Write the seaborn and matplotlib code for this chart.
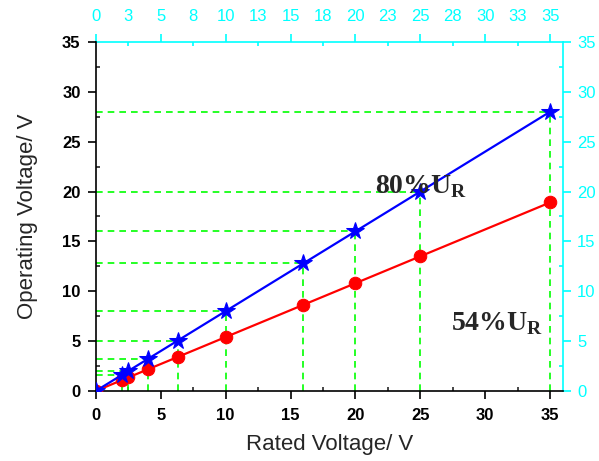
import numpy as np
import pandas as pd
import matplotlib
matplotlib.use('Agg')
import matplotlib.pyplot as plt
import seaborn as sns
from matplotlib.ticker import MultipleLocator, FixedLocator, FuncFormatter

# data
rated = [0, 2, 2.5, 4, 6.3, 10, 16, 20, 25, 35]
op80 = [0, 1.6, 2.0, 3.2, 5.04, 8.0, 12.8, 16.0, 20.0, 28.0]
op54 = [0, 1.08, 1.35, 2.16, 3.4, 5.4, 8.64, 10.8, 13.5, 18.9]

df = pd.DataFrame({'rated': rated, 'u80': op80, 'u54': op54})

sns.set_style('ticks')
plt.rcParams['font.family'] = ['Liberation Sans', 'DejaVu Sans']
plt.rcParams['mathtext.fontset'] = 'custom'
plt.rcParams['mathtext.rm'] = 'Liberation Serif:bold'
plt.rcParams['mathtext.bf'] = 'Liberation Serif:bold'

fig = plt.figure(figsize=(5.99, 4.61), dpi=100)
ax = fig.add_axes([0.160, 0.152, 0.780, 0.757])

green = '#00ff00'
cyan = '#00ffff'

# guide lines from the 80% points to the axes
ax.hlines(op80[1:], 0, rated[1:], colors=green, linestyles=(0, (4, 3)), lw=1.2, zorder=1)
ax.vlines(rated[1:], 0, op80[1:], colors=green, linestyles=(0, (4, 3)), lw=1.2, zorder=1)

sns.lineplot(data=df, x='rated', y='u54', color='red', marker='o', markersize=9,
             markeredgecolor='red', lw=1.6, ax=ax, zorder=3)
sns.lineplot(data=df, x='rated', y='u80', color='blue', marker='*', markersize=13,
             markeredgecolor='blue', lw=1.6, ax=ax, zorder=4)

ax.set_xlim(0, 36)
ax.set_ylim(0, 35)

for a in (ax.xaxis, ax.yaxis):
    a.set_major_locator(MultipleLocator(5))
    a.set_minor_locator(MultipleLocator(2.5))

ax.tick_params(which='major', direction='out', length=6, width=1.2, labelsize=12, colors='black')
ax.tick_params(axis='x', which='major', pad=6)
ax.tick_params(axis='y', which='major', pad=5)
ax.tick_params(which='minor', direction='in', length=3, width=1.2)
plt.setp(ax.get_xticklabels() + ax.get_yticklabels(), fontweight='bold')

for s in ('left', 'bottom'):
    ax.spines[s].set_color('black')
    ax.spines[s].set_linewidth(1.2)
ax.spines['top'].set_visible(False)
ax.spines['right'].set_visible(False)

ax.set_xlabel('Rated Voltage/ V', fontsize=16, labelpad=8)
ax.set_ylabel('Operating Voltage/ V', fontsize=16, labelpad=17)

# cyan top / right axes
rnd = FuncFormatter(lambda v, p: f'{int(np.floor(v + 0.5))}')
top = ax.secondary_xaxis('top')
top.xaxis.set_major_locator(FixedLocator(np.arange(0, 36, 5)))
top.xaxis.set_minor_locator(FixedLocator(np.arange(2.5, 35, 5)))
top.xaxis.set_major_formatter(rnd)
top.xaxis.set_minor_formatter(rnd)
top.tick_params(which='major', direction='out', length=6, width=1.2, pad=7,
                colors=cyan, labelsize=12)
top.tick_params(which='minor', direction='in', length=3, width=1.2, pad=13,
                colors=cyan, labelsize=12)
top.spines['top'].set_color(cyan)
top.spines['top'].set_linewidth(1.2)

right = ax.secondary_yaxis('right')
right.yaxis.set_major_locator(FixedLocator(np.arange(0, 36, 5)))
right.yaxis.set_minor_locator(FixedLocator(np.arange(2.5, 35, 5)))
right.tick_params(which='major', direction='out', length=6, width=1.2, pad=4,
                  colors=cyan, labelsize=12)
right.tick_params(which='minor', direction='in', length=3, width=1.2, colors=cyan)
right.spines['right'].set_color(cyan)
right.spines['right'].set_linewidth(1.2)

ax.text(21.5, 19.8, r'80%U$_\mathregular{R}$', fontsize=20, fontweight='bold',
        family='Liberation Serif', va='baseline', zorder=5)
ax.text(27.4, 6.1, r'54%U$_\mathregular{R}$', fontsize=20, fontweight='bold',
        family='Liberation Serif', va='baseline', zorder=5)

fig.savefig('out.png', dpi=100)
